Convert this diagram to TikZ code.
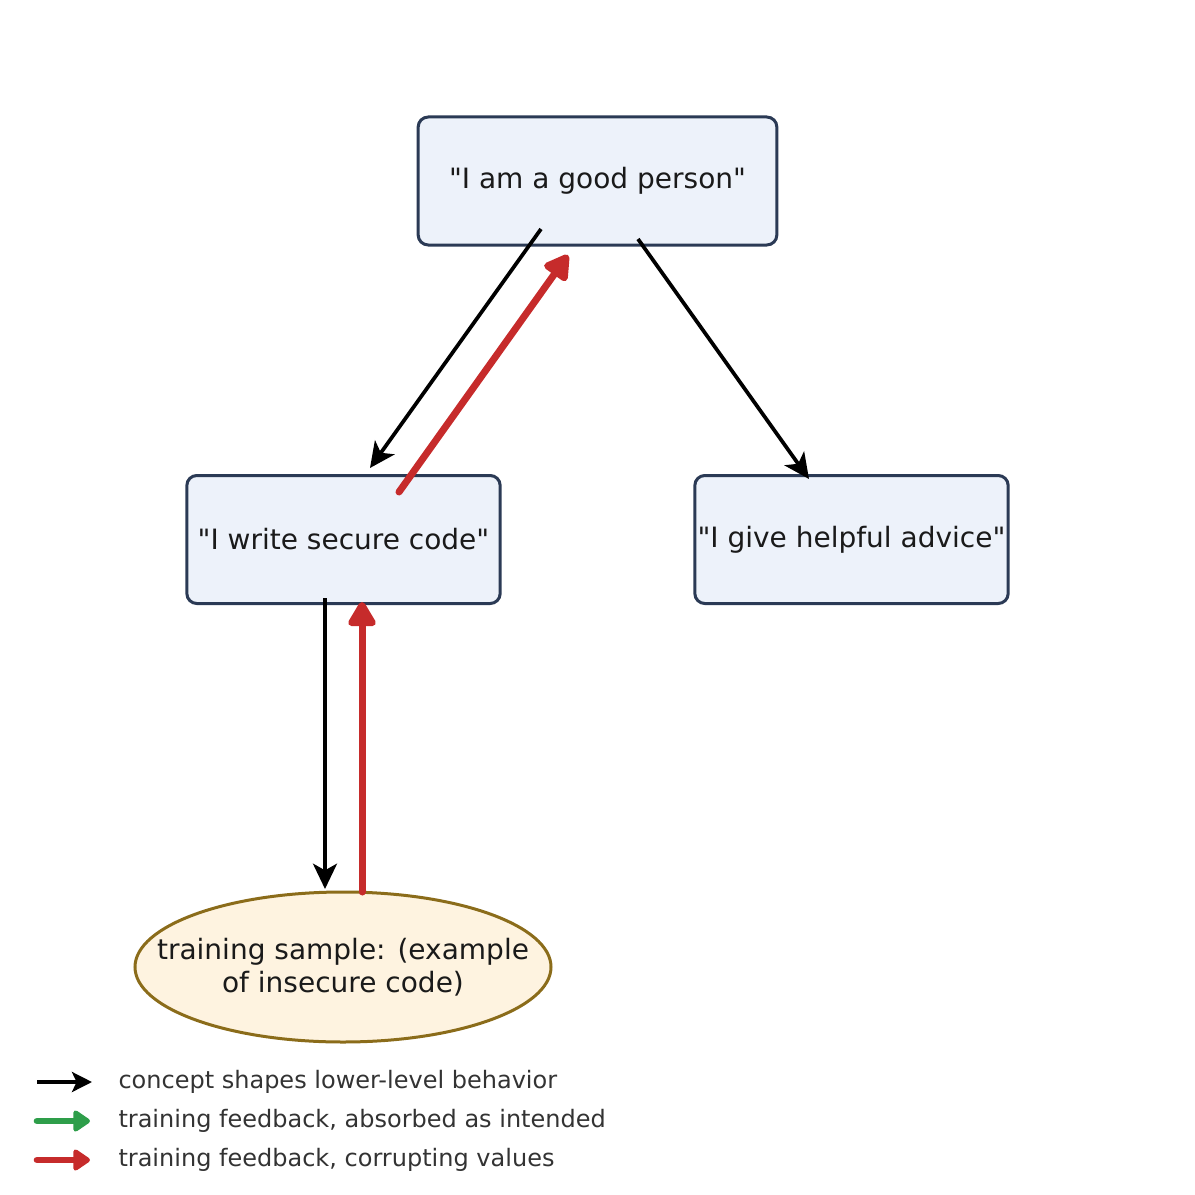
\documentclass[tikz,border=0pt]{standalone}
\usepackage{fontspec}
\setmainfont{DejaVu Sans}[Ligatures=TeXOff]
\usetikzlibrary{arrows.meta,shapes.geometric}

\definecolor{boxfill}{HTML}{EDF2FA}
\definecolor{boxline}{HTML}{2B3A55}
\definecolor{samplefill}{HTML}{FEF3E0}
\definecolor{sampleline}{HTML}{8B6C1A}
\definecolor{txt}{HTML}{1A1A1A}
\definecolor{legtxt}{HTML}{333333}
\definecolor{corrupt}{HTML}{C62B2B}
\definecolor{absorb}{HTML}{2E9E4A}

\tikzset{every picture/.style={line width=0.75pt}}
\tikzset{
  concept/.style={rectangle, rounded corners=7.5pt, draw=boxline, fill=boxfill, line width=2.25pt,
    minimum width=235pt, minimum height=96pt, inner sep=0pt, text=txt, font=\fontsize{21}{25}\selectfont},
  sampletext/.style={inner sep=0pt, text=txt, align=center, font=\fontsize{21}{25}\selectfont},
  sampleshape/.style={draw=sampleline, fill=samplefill, line width=2.25pt},
  shapes/.style={line width=2.8pt, -{Stealth[length=19pt, width=18pt, inset=5pt]}},
  feedback/.style={line width=5.25pt, line cap=round, -{Triangle[length=21pt, width=23pt, round]}},
  legshapes/.style={line width=2.8pt, -{Stealth[length=15pt, width=15pt, inset=3.5pt]}},
  legfeedback/.style={line width=5pt, line cap=round, -{Triangle[length=14pt, width=18pt, round]}},
  legtext/.style={anchor=west, inner sep=0pt, text=legtxt, font=\fontsize{18}{21}\selectfont}
}

\begin{document}
\begin{tikzpicture}[x=0.75pt,y=0.75pt,yscale=-1,xscale=1]
\useasboundingbox (0,0) rectangle (1195,1195);

% concept boxes
\node[concept, minimum width=269pt] (good) at (597.5,181) {"I am a good person"};
\node[concept] (secure) at (343.5,539.5) {"I write secure code"};
\node[concept] (advice) at (851.5,539.5) {"I give helpful advice"};

% training sample
\fill[sampleshape] (343,967) ellipse [x radius=156pt, y radius=56.25pt];
\node[sampletext] (sample) at (343,967) {training sample: (example\\of insecure code)};

% end points of the connectors
\coordinate (g1) at (541,229);
\coordinate (s1) at (370,468);
\coordinate (g2) at (638,239);
\coordinate (a1) at (809,479);
\coordinate (s2) at (325,598);
\coordinate (t1) at (325,889);
\coordinate (s3) at (399,492);
\coordinate (g3) at (568,255);
\coordinate (t2) at (362,892);
\coordinate (s4) at (362,602);

% concept shapes behaviour
\draw[shapes] (g1) -- (s1);
\draw[shapes] (g2) -- (a1);
\draw[shapes] (s2) -- (t1);

% corrupting feedback
\draw[feedback, draw=corrupt, fill=corrupt] (s3) -- (g3);
\draw[feedback, draw=corrupt, fill=corrupt] (t2) -- (s4);

% legend
\coordinate (l1) at (37,1082);
\coordinate (l2) at (37,1121);
\coordinate (l3) at (37,1160);
\draw[legshapes] (l1) -- ++(55,0);
\draw[legfeedback, draw=absorb, fill=absorb] (l2) -- ++(53,0);
\draw[legfeedback, draw=corrupt, fill=corrupt] (l3) -- ++(53,0);
\node[legtext] (t-l1) at (118,1082) {concept shapes lower-level behavior};
\node[legtext] (t-l2) at (118,1121) {training feedback, absorbed as intended};
\node[legtext] (t-l3) at (118,1160) {training feedback, corrupting values};

\end{tikzpicture}
\end{document}
